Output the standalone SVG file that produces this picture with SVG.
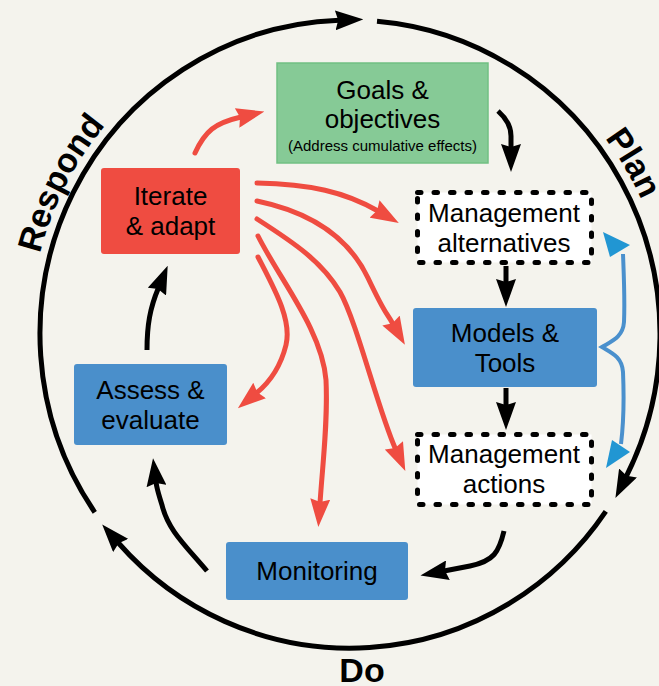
<svg xmlns="http://www.w3.org/2000/svg" xmlns:xlink="http://www.w3.org/1999/xlink" width="659" height="686" viewBox="0 0 659 686">
<style>
.lbl{font-family:"Liberation Sans",Arial,sans-serif;font-size:26px;fill:#000;text-anchor:middle}
.small{font-size:15px}
.phase{font-family:"Liberation Sans",Arial,sans-serif;font-size:34px;font-weight:bold;fill:#000}
.blue{fill:#4a8fcb}
.dash{fill:#fff;stroke:#000;stroke-width:5;stroke-dasharray:3.5 13;stroke-linecap:round}
.ring{fill:none;stroke:#000;stroke-width:5;marker-end:url(#ab)}
.blk{fill:none;stroke:#000;stroke-width:5;marker-end:url(#ab)}
.red{fill:none;stroke:#ef4c41;stroke-width:5;stroke-linecap:round;marker-end:url(#ar)}
</style>
<defs>
<marker id="ab" markerUnits="userSpaceOnUse" viewBox="0 0 28 20" markerWidth="28" markerHeight="20" refX="4" refY="10" orient="auto"><path d="M0,0 L28,10 L0,20 L3,10 Z" fill="#000"/></marker>
<marker id="ar" markerUnits="userSpaceOnUse" viewBox="0 0 28 20" markerWidth="28" markerHeight="20" refX="4" refY="10" orient="auto"><path d="M0,0 L28,10 L0,20 L3,10 Z" fill="#ef4c41"/></marker>
<path id="tp" d="M350,658 A320 324 0 1 1 350,10 A320 324 0 1 1 350,658"/>
</defs>
<rect width="659" height="686" fill="#f4f3ed"/>

<g id="cycle">
<path class="ring" d="M94.8,512.3 A310 314 0 0 1 339.2,20.2"/>
<path class="ring" d="M377,21.2 A310 314 0 0 1 626.2,476.6"/>
<path class="ring" d="M605.8,511.4 A310 314 0 0 1 118,542.5"/>
<text class="phase"><textPath xlink:href="#tp" href="#tp" startOffset="32.6%" text-anchor="middle">Respond</textPath></text>
<text class="phase"><textPath xlink:href="#tp" href="#tp" startOffset="66.4%" text-anchor="middle">Plan</textPath></text>
<text class="phase" x="362" y="682" text-anchor="middle">Do</text>
</g>

<g id="connectors">
<path class="blk" d="M498,111 C507,119 511,126 511,136 L511,148"/>
<path class="blk" d="M506,266 L506,283"/>
<path class="blk" d="M506,388 L506,406"/>
<path class="blk" d="M504,531 C499,552 494,561 470,566 L444,571"/>
<path class="blk" d="M207,571 C185,545 168,530 162,505 C159,495 157,490 156,482"/>
<path class="blk" d="M147,350 C147,325 150,308 158.4,288"/>
<path class="red" d="M195,153 C205,131 215,123 241,117"/>
<path class="red" d="M257,183 C310,184 345,192 378,211"/>
<path class="red" d="M257,201 C315,213 350,240 368,278 S385,310 393,324"/>
<path class="red" d="M257,219 C296,244 322,262 340,292 C357,322 378,410 395.5,449"/>
<path class="red" d="M258,236 C280,280 322,330 326,380 C328,420 323,460 320,503"/>
<path class="red" d="M258,257 C275,290 292,320 286,345 C281,365 270,382 256.5,393"/>
<path d="M623,254 C624,280 625,300 624,322 C623,337 612,341 602,347 C612,353 622,357 623,372 C624,395 624,420 621,444" fill="none" stroke="#4a90cd" stroke-width="4"/>
<polygon points="603,232 610,257 630,245" fill="#2196d3"/>
<polygon points="606,468 612,440 630,452" fill="#2196d3"/>
</g>

<g id="goals">
<rect x="277" y="63" width="211" height="100" fill="#86ca96" stroke="#70c083" stroke-width="1.5"/>
<text class="lbl" x="382.5" y="99">Goals &amp;</text>
<text class="lbl" x="382.5" y="128">objectives</text>
<text class="lbl small" x="382.5" y="151">(Address cumulative effects)</text>
</g>
<g id="iterate">
<rect x="101" y="168" width="139" height="86" rx="3" fill="#ef4c41"/>
<text class="lbl" x="170.5" y="205">Iterate</text>
<text class="lbl" x="170.5" y="235">&amp; adapt</text>
</g>
<g id="alternatives">
<rect class="dash" x="417.5" y="192.5" width="174" height="70"/>
<text class="lbl" x="504" y="222">Management</text>
<text class="lbl" x="504" y="252">alternatives</text>
</g>
<g id="models">
<rect class="blue" x="413" y="308" width="184" height="79" rx="3"/>
<text class="lbl" x="505" y="342">Models &amp;</text>
<text class="lbl" x="505" y="372">Tools</text>
</g>
<g id="actions">
<rect class="dash" x="417.5" y="434.5" width="174" height="70"/>
<text class="lbl" x="504" y="463">Management</text>
<text class="lbl" x="504" y="493">actions</text>
</g>
<g id="assess">
<rect class="blue" x="74" y="364" width="153" height="81" rx="3"/>
<text class="lbl" x="150.5" y="399">Assess &amp;</text>
<text class="lbl" x="150.5" y="429">evaluate</text>
</g>
<g id="monitoring">
<rect class="blue" x="226" y="542" width="182" height="58" rx="3"/>
<text class="lbl" x="317" y="580">Monitoring</text>
</g>
</svg>
